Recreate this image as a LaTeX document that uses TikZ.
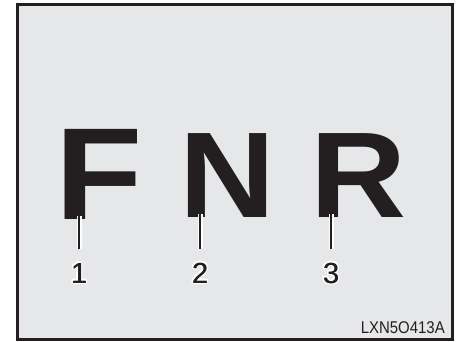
\documentclass[tikz,border=0pt]{standalone}
\usepackage{fontspec}
\setmainfont{Liberation Sans}
\newfontfamily\narrowfont[FakeStretch=0.88]{Liberation Sans}
\newfontfamily\gearfont[FakeStretch=1.09]{Liberation Sans}
\definecolor{ink}{HTML}{231F20}
\definecolor{panel}{HTML}{E6E7E8}
% white outline behind a text
\newcommand{\halo}[1]{%
  \foreach \a in {0,45,...,315}{%
    \pgfmathsetlengthmacro{\hx}{1.8pt*cos(\a)}%
    \pgfmathsetlengthmacro{\hy}{1.8pt*sin(\a)}%
    \rlap{\kern\hx\raisebox{\hy}{\color{white}#1}}}%
  \rlap{\kern0.4pt#1}#1}

\begin{document}
\begin{tikzpicture}[x=1pt,y=-1pt,
   letter/.style={inner sep=0pt,anchor=base west,text=ink,
     font=\fontsize{122}{122}\selectfont\gearfont\bfseries},
   num/.style={inner sep=0pt,anchor=base,text=ink,
     font=\fontsize{29}{29}\selectfont},
   leader/.style={draw=ink,line width=2pt,
     preaction={draw=white,line width=5pt}}]
\useasboundingbox (0,0) rectangle (456,341);
\draw[ink,fill=panel,line width=3pt] (17.5,4) rectangle (452,339.5);
\node[letter,font=\fontsize{131}{131}\selectfont\gearfont\bfseries] (F) at (55.6,219) {F};
\node[letter] (N) at (179,217) {N};
\node[letter] (R) at (310,217) {R};
\foreach \k/\x in {1/79,2/200,3/331}
  \node[num] (n\k) at (\x,283) {\halo{\k}};
\foreach \k/\L in {1/F,2/N,3/R}
  \draw[leader,shorten <=12pt,shorten >=-3pt] (n\k.north) -- (n\k.north |- \L.base);
\node[anchor=base east,inner sep=0pt,text=ink,
  font=\fontsize{17}{17}\selectfont\narrowfont] (code) at (445,333) {LXN5O413A};
\end{tikzpicture}
\end{document}
